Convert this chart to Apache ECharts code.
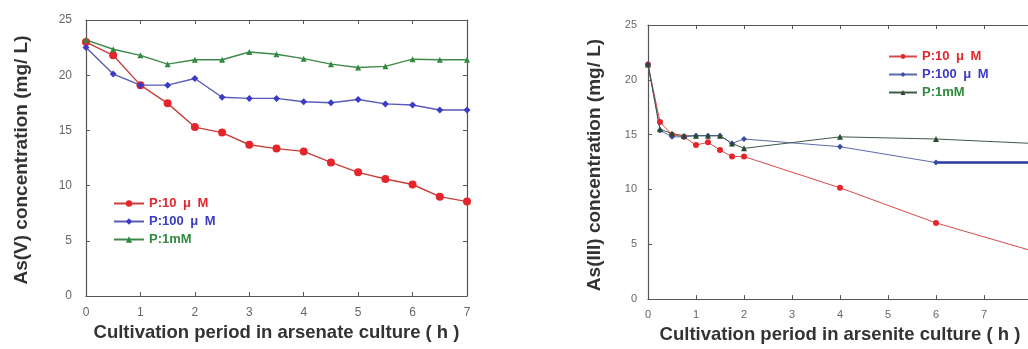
<!DOCTYPE html>
<html><head><meta charset="utf-8">
<script src="https://cdn.jsdelivr.net/npm/echarts@6/dist/echarts.min.js"></script>
<style>
html,body{margin:0;padding:0;background:#fff;}
#wrap{position:relative;width:1028px;height:349px;overflow:hidden;}
#c1{position:absolute;left:0;top:0;width:540px;height:349px;}
#c2{position:absolute;left:540px;top:0;width:510px;height:349px;}
</style>
</head><body>
<div id="wrap"><div id="c1"></div><div id="c2"></div></div>
<script>
// ---- Left chart: arsenate culture ----
var seriesNames = ['P:10\u2002\u03bc\u2002M', 'P:100\u2002\u03bc\u2002M', 'P:1mM'];
var xLeft = [0, 0.5, 1, 1.5, 2, 2.5, 3, 3.5, 4, 4.5, 5, 5.5, 6, 6.5, 7];
var redLeft   = [23.0, 21.8, 19.1, 17.45, 15.3, 14.8, 13.7, 13.35, 13.1, 12.1, 11.2, 10.6, 10.1, 9.0, 8.55];
var blueLeft  = [22.5, 20.1, 19.1, 19.1, 19.7, 18.0, 17.9, 17.9, 17.6, 17.5, 17.8, 17.4, 17.3, 16.85, 16.85];
var greenLeft = [23.2, 22.35, 21.8, 21.0, 21.4, 21.4, 22.1, 21.9, 21.5, 21.0, 20.7, 20.8, 21.45, 21.4, 21.4];

// ---- Right chart: arsenite culture ----
var xRight = [0, 0.25, 0.5, 0.75, 1, 1.25, 1.5, 1.75, 2, 4, 6, 8];
var redRight   = [21.4, 16.15, 15.0, 14.8, 14.05, 14.3, 13.6, 13.0, 13.0, 10.15, 6.95, 4.4];
var blueRight  = [21.4, 15.4, 14.8, 14.8, 14.9, 14.9, 14.9, 14.2, 14.6, 13.9, 12.45, 12.45];
var greenRight = [21.4, 15.5, 15.1, 14.9, 14.9, 14.9, 14.9, 14.2, 13.75, 14.8, 14.6, 14.2];

var yTicks = [0, 5, 10, 15, 20, 25];
var xLeftName = 'Cultivation period in arsenate culture ( h )';
var xRightName = 'Cultivation period in arsenite culture ( h )';
var yLeftName = 'As(V) concentration (mg/ L)';
var yRightName = 'As(III) concentration (mg/ L)';

function pairs(xs, ys){ return xs.map(function(x,i){ return [x, ys[i]]; }); }

var FONT = 'Liberation Sans, Arial, sans-serif';
var AX = '#555';
var RED = '#e4262c', BLUE = '#3b3bc6', GREEN = '#2f8a3d';

function axes(xmax, labelSize, xName, nameGap, xmarg, ymarg){
  var common = {
    axisLine:{show:true, onZero:false, lineStyle:{color:AX, width:1.2}},
    axisTick:{show:true, inside:true, length:4, lineStyle:{color:AX}},
    splitLine:{show:false}
  };
  var xb = Object.assign({}, common, {type:'value', min:0, max:xmax, interval:1, position:'bottom',
    axisLabel:{color:'#666', fontSize:labelSize, fontFamily:FONT, margin:xmarg},
    name:xName, nameLocation:'middle', nameGap:nameGap,
    nameTextStyle:{color:'#333', fontSize:18.5, fontWeight:'bold', fontFamily:FONT, verticalAlign:'top'}});
  var xt = Object.assign({}, common, {type:'value', min:0, max:xmax, interval:1, position:'top', axisLabel:{show:false}});
  var yl = Object.assign({}, common, {type:'value', min:0, max:25, interval:5, position:'left',
    axisLabel:{color:'#666', fontSize:labelSize, fontFamily:FONT, margin:ymarg}});
  var yr = Object.assign({}, common, {type:'value', min:0, max:25, interval:5, position:'right', axisLabel:{show:false}});
  return {x:[xb, xt], y:[yl, yr]};
}

// Left
var a1 = axes(7, 12, xLeftName, 25, 11, 14);
var c1 = echarts.init(document.getElementById('c1'), null, {renderer:'canvas'});
c1.setOption({
  animation:false,
  backgroundColor:'#fff',
  grid:{left:86, top:20, width:381, height:276},
  xAxis:a1.x, yAxis:a1.y,
  legend:{
    left:108, top:192, orient:'vertical', itemWidth:30, itemHeight:8, itemGap:5,
    textStyle:{fontFamily:FONT, fontSize:13, fontWeight:'bold'},
    data:[
      {name:seriesNames[0], textStyle:{color:RED}},
      {name:seriesNames[1], textStyle:{color:BLUE}},
      {name:seriesNames[2], textStyle:{color:GREEN}}
    ]
  },
  graphic:[{type:'text', x:21.5, y:160, rotation:Math.PI/2,
    style:{text:yLeftName, font:'bold 19px ' + FONT, fill:'#333', align:'center', verticalAlign:'middle'}}],
  series:[
    {name:seriesNames[0], type:'line', data:pairs(xLeft, redLeft), symbol:'circle', symbolSize:8,
      itemStyle:{color:RED}, lineStyle:{color:'#c8403a', width:1.4}},
    {name:seriesNames[1], type:'line', data:pairs(xLeft, blueLeft), symbol:'diamond', symbolSize:7,
      itemStyle:{color:BLUE}, lineStyle:{color:'#5a5ab8', width:1.4}},
    {name:seriesNames[2], type:'line', data:pairs(xLeft, greenLeft), symbol:'triangle', symbolSize:6,
      itemStyle:{color:GREEN}, lineStyle:{color:'#3f8a4a', width:1.4}}
  ]
});

// Right
var a2 = axes(8, 11, xRightName, 22, 10, 11);
var c2 = echarts.init(document.getElementById('c2'), null, {renderer:'canvas'});
var blueTail = pairs(xRight, blueRight).slice(-2);
c2.setOption({
  animation:false,
  backgroundColor:'#fff',
  grid:{left:108, top:25, width:384, height:276},
  xAxis:a2.x, yAxis:a2.y,
  legend:{
    left:343, top:45, orient:'vertical', itemWidth:28, itemHeight:6, itemGap:5,
    textStyle:{fontFamily:FONT, fontSize:13, fontWeight:'bold'},
    data:[
      {name:seriesNames[0], textStyle:{color:RED}},
      {name:seriesNames[1], textStyle:{color:BLUE}},
      {name:seriesNames[2], textStyle:{color:GREEN}}
    ]
  },
  graphic:[{type:'text', x:54.5, y:165, rotation:Math.PI/2,
    style:{text:yRightName, font:'bold 19px ' + FONT, fill:'#333', align:'center', verticalAlign:'middle'}}],
  series:[
    {name:seriesNames[0], type:'line', data:pairs(xRight, redRight), symbol:'circle', symbolSize:6,
      itemStyle:{color:RED}, lineStyle:{color:'#d84a4a', width:1}},
    {name:seriesNames[1], type:'line', data:pairs(xRight, blueRight), symbol:'diamond', symbolSize:6,
      itemStyle:{color:'#3a4aa8'}, lineStyle:{color:'#5a6aa8', width:1}},
    {name:seriesNames[2], type:'line', data:pairs(xRight, greenRight), symbol:'triangle', symbolSize:6,
      itemStyle:{color:'#2a4a33'}, lineStyle:{color:'#3f5a48', width:1}},
    {name:'blueTail', type:'line', data:blueTail, symbol:'none', silent:true,
      lineStyle:{color:'#2a3a9a', width:2.5}}
  ]
});
</script>
</body></html>
